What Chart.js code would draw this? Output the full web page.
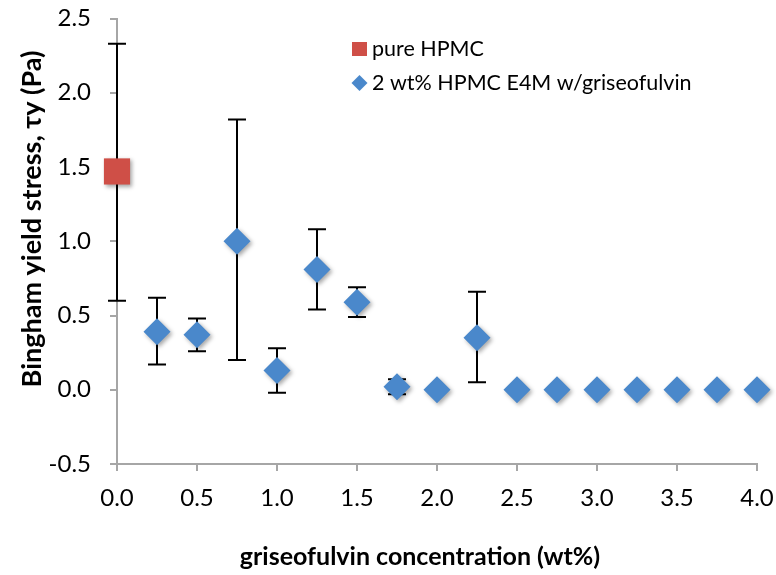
<!DOCTYPE html>
<html>
<head>
<meta charset="utf-8">
<script src="https://cdn.jsdelivr.net/npm/chart.js@4"></script>
<style>
  html, body { margin: 0; padding: 0; background: #fff; }
  #chart { display: block; }
</style>
</head>
<body>
<canvas id="chart" width="776" height="575"></canvas>
<script>
// data
const pureConc = [0];
const pureYield = [1.47];
const pureLow = [0.6];
const pureHigh = [2.33];

const concentration = [0.25, 0.5, 0.75, 1.0, 1.25, 1.5, 1.75, 2.0, 2.25, 2.5, 2.75, 3.0, 3.25, 3.5, 3.75, 4.0];
const yieldStress = [0.39, 0.37, 1.0, 0.13, 0.81, 0.59, 0.02, 0, 0.35, 0, 0, 0, 0, 0, 0, 0];
const errLow = [0.17, 0.26, 0.2, -0.02, 0.54, 0.49, -0.03, null, 0.05, null, null, null, null, null, null, null];
const errHigh = [0.62, 0.48, 1.82, 0.28, 1.08, 0.69, 0.07, null, 0.66, null, null, null, null, null, null, null];

const xTitle = "griseofulvin concentration (wt%)";
const yTitle = "Bingham yield stress, \u03C4y (Pa)";
const labelPure = "pure HPMC";
const labelBlend = "2 wt% HPMC E4M w/griseofulvin";

const RED = "#cf4f47";
const BLUE = "#4a88cb";
const AXIS = "#a6a6a6";
const FONT = "Lato, 'Open Sans', sans-serif";

const toPoints = (xs, ys) => xs.map((x, i) => ({ x: x, y: ys[i] }));

// error bars behind the markers
const errorBars = {
  id: "errorBars",
  beforeDatasetsDraw(chart) {
    const ctx = chart.ctx;
    const xs = chart.scales.x;
    const ys = chart.scales.y;
    const sets = [
      [pureConc, pureLow, pureHigh],
      [concentration, errLow, errHigh],
    ];
    ctx.save();
    ctx.strokeStyle = "#000";
    ctx.lineWidth = 2;
    sets.forEach(([cx, lo, hi]) => {
      cx.forEach((c, i) => {
        if (lo[i] == null || hi[i] == null) return;
        const px = xs.getPixelForValue(c);
        const y1 = ys.getPixelForValue(lo[i]);
        const y2 = ys.getPixelForValue(hi[i]);
        ctx.beginPath();
        ctx.moveTo(px, y1);
        ctx.lineTo(px, y2);
        ctx.moveTo(px - 9, y1);
        ctx.lineTo(px + 9, y1);
        ctx.moveTo(px - 9, y2);
        ctx.lineTo(px + 9, y2);
        ctx.stroke();
      });
    });
    ctx.restore();
  },
};

// soft shadow under markers
const markerShadow = {
  id: "markerShadow",
  beforeDatasetDraw(chart) {
    const ctx = chart.ctx;
    ctx.save();
    ctx.shadowColor = "rgba(0,0,0,0.35)";
    ctx.shadowBlur = 4;
    ctx.shadowOffsetX = 2;
    ctx.shadowOffsetY = 2;
  },
  afterDatasetDraw(chart) {
    chart.ctx.restore();
  },
};

// axis titles and the legend box
const decorations = {
  id: "decorations",
  afterDraw(chart) {
    const ctx = chart.ctx;
    ctx.save();
    ctx.fillStyle = "#000";
    ctx.textAlign = "center";
    ctx.textBaseline = "middle";
    ctx.font = "bold 25px " + FONT;
    ctx.fillText(xTitle, 420, 557);
    ctx.font = "bold 27px " + FONT;
    ctx.translate(32, 219);
    ctx.rotate(-Math.PI / 2);
    ctx.fillText(yTitle, 0, 0);
    ctx.restore();

    ctx.save();
    ctx.font = "21.5px " + FONT;
    ctx.textAlign = "left";
    ctx.textBaseline = "middle";
    const items = chart.data.datasets;
    const rows = [49, 83];
    items.forEach((ds, i) => {
      const y = rows[i];
      ctx.fillStyle = ds.backgroundColor;
      ctx.beginPath();
      if (ds.pointStyle === "rect") {
        ctx.rect(352, y - 7, 15, 14);
      } else {
        ctx.moveTo(359.5, y - 8);
        ctx.lineTo(367.5, y);
        ctx.lineTo(359.5, y + 8);
        ctx.lineTo(351.5, y);
        ctx.closePath();
      }
      ctx.fill();
      ctx.fillStyle = "#000";
      ctx.fillText(ds.label, 372, y);
    });
    ctx.restore();
  },
};

new Chart(document.getElementById("chart"), {
  type: "scatter",
  data: {
    datasets: [
      {
        label: labelPure,
        data: toPoints(pureConc, pureYield),
        pointStyle: "rect",
        pointRadius: 18.5,
        pointHoverRadius: 18.5,
        backgroundColor: RED,
        borderColor: RED,
        borderWidth: 0,
        clip: false,
      },
      {
        label: labelBlend,
        data: toPoints(concentration, yieldStress),
        pointStyle: "rectRot",
        pointRadius: 13.5,
        pointHoverRadius: 13.5,
        backgroundColor: BLUE,
        borderColor: BLUE,
        borderWidth: 0,
        clip: false,
      },
    ],
  },
  options: {
    responsive: false,
    animation: false,
    layout: { padding: { top: 14, right: 19, left: 0, bottom: 0 } },
    plugins: {
      legend: { display: false },
      tooltip: { enabled: false },
    },
    scales: {
      x: {
        type: "linear",
        min: 0,
        max: 4,
        ticks: {
          stepSize: 0.5,
          padding: 13,
          color: "#000",
          font: { family: FONT, size: 24 },
          callback: (v) => v.toFixed(1),
          maxRotation: 0,
        },
        grid: { drawOnChartArea: false, drawTicks: true, tickLength: 7, color: AXIS, lineWidth: 2 },
        border: { color: AXIS, width: 2 },
        afterFit: (scale) => {
          scale.height = 111;
          scale.paddingLeft = 0;
          scale.paddingRight = 0;
        },
      },
      y: {
        type: "linear",
        min: -0.5,
        max: 2.5,
        ticks: {
          stepSize: 0.5,
          padding: 19,
          color: "#000",
          font: { family: FONT, size: 24 },
          callback: (v) => v.toFixed(1),
        },
        grid: { drawOnChartArea: false, drawTicks: true, tickLength: 7, color: AXIS, lineWidth: 2 },
        border: { color: AXIS, width: 2 },
        afterFit: (scale) => {
          scale.width = 117;
          scale.paddingTop = 0;
          scale.paddingBottom = 0;
        },
      },
    },
  },
  plugins: [errorBars, markerShadow, decorations],
});
</script>
</body>
</html>
